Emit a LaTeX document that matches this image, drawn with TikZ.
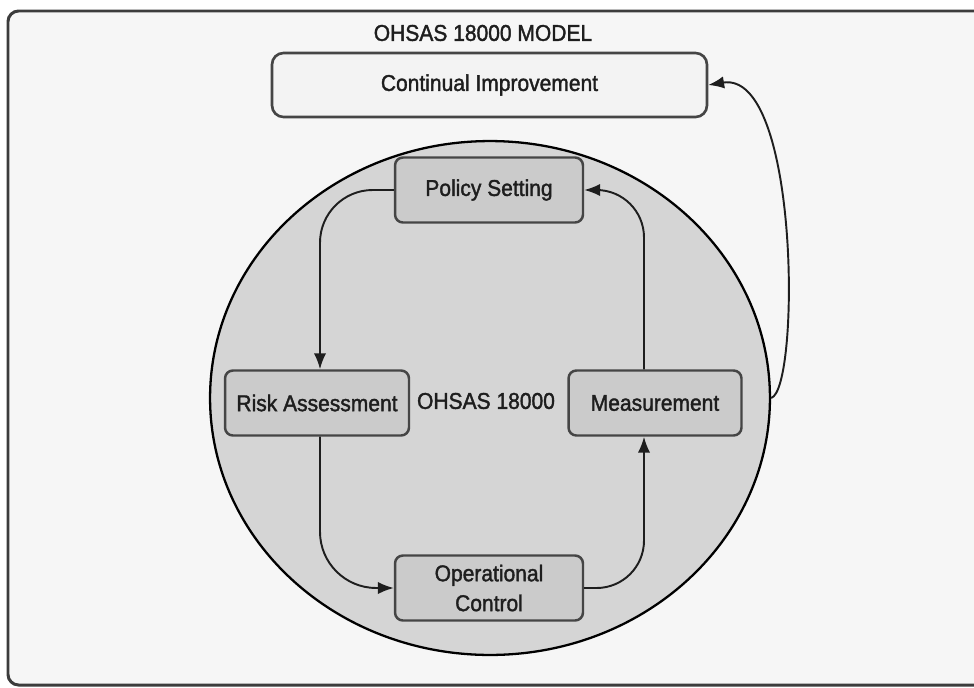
\documentclass[tikz,border=0pt]{standalone}
\usepackage{fontspec}
\setmainfont{Liberation Sans}[FakeStretch=0.92,FakeBold=1.6]
\usetikzlibrary{arrows.meta,shapes.geometric,calc}

\definecolor{pagebg}{HTML}{F6F6F6}
\definecolor{framecol}{HTML}{3C3C3C}
\definecolor{topfill}{HTML}{F3F3F3}
\definecolor{ringfill}{HTML}{D5D5D5}
\definecolor{boxfill}{HTML}{CBCBCB}
\definecolor{boxline}{HTML}{454545}
\definecolor{inkcol}{HTML}{1E1E1E}

\tikzset{
  stagebox/.style={draw=boxline, fill=boxfill, line width=1.4pt,
    rounded corners=4.5pt, minimum height=1.3cm, inner sep=0pt,
    align=center, text=inkcol, font=\fontsize{13}{17}\selectfont},
  topbox/.style={draw=boxline, fill=topfill, line width=1.5pt,
    rounded corners=6.5pt, minimum width=8.7cm, minimum height=1.28cm,
    text=inkcol, font=\fontsize{13}{17}\selectfont},
  ringshape/.style={ellipse, draw=black, fill=ringfill, line width=1.3pt,
    minimum width=11.2cm, minimum height=10.28cm, inner sep=0pt},
  plain/.style={text=inkcol, font=\fontsize{13}{17}\selectfont},
  link/.style={draw=inkcol, line width=1.1pt,
    -{Latex[length=9pt,width=7pt]}}
}

\begin{document}
\begin{tikzpicture}[x=0.02cm,y=-0.02cm]
  \useasboundingbox (0,0) rectangle (974,687);
  \clip (0,0) rectangle (974,687);
  \fill[white] (0,0) rectangle (974,687);

  % outer frame
  \draw[draw=framecol, fill=pagebg, line width=1.7pt, rounded corners=6pt]
    (8,11) rectangle (1010,685);

  % heading and the improvement box
  \node[plain] (title) at (483,33) {OHSAS 18000 MODEL};
  \node[topbox] (ci) at (489.5,85) {Continual Improvement};

  % central ring
  \node[ringshape] (ring) at (490,398) {};
  \node[plain] (core) at (486,401) {OHSAS 18000};

  % the four stages
  \node[stagebox, minimum width=3.76cm] (ps) at (489,190) {Policy Setting};
  \node[stagebox, minimum width=3.68cm] (ra) at (317,403) {Risk Assessment};
  \node[stagebox, minimum width=3.46cm] (ms) at (655,403) {Measurement};
  \node[stagebox, minimum width=3.76cm] (oc) at (489,588) {Operational\\Control};

  % cycle connectors
  \draw[link, rounded corners=30pt] (ps.west) -| ($(ra.north)+(3,0)$);
  \draw[link, rounded corners=32pt] ($(ra.south)+(3,0)$) |- (oc.west);
  \draw[link, rounded corners=27pt] (oc.east) -| ($(ms.south)+(-11,0)$);
  \draw[link, rounded corners=27pt] ($(ms.north)+(-11,0)$) |- (ps.east);

  % feedback to continual improvement
  \draw[link] (ring.east) .. controls (800,390) and (800,70) .. (ci.east);
\end{tikzpicture}
\end{document}
